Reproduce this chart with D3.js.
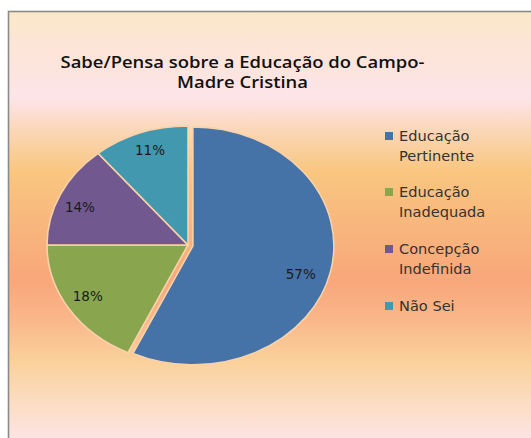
<!DOCTYPE html>
<html><head><meta charset="utf-8">
<script src="https://cdn.jsdelivr.net/npm/d3@7"></script>
<style>body{margin:0;background:#fff;overflow:hidden}svg{display:block}</style>
</head><body>
<svg id="c" width="531" height="438"></svg>
<script>
const titleLines = ["Sabe/Pensa sobre a Educação do Campo-", "Madre Cristina"];
const categories = ["Educação Pertinente", "Educação Inadequada", "Concepção Indefinida", "Não Sei"];
const legendLines = [["Educação", "Pertinente"], ["Educação", "Inadequada"], ["Concepção", "Indefinida"], ["Não Sei"]];
const values = [57, 18, 14, 11];
const labels = ["57%", "18%", "14%", "11%"];
const colors = ["#4572A7", "#89A54E", "#71588F", "#4198AF"];
const explode = [5, 0, 0, 0];
const labelRadius = [0.80, 0.83, 0.83, 0.84];
const labelAngleShift = [4.4, 1.3, -2.6, 1.1]; // degrees

const svg = d3.select("#c");
const defs = svg.append("defs");
const g = defs.append("linearGradient").attr("id", "bg")
  .attr("gradientUnits", "userSpaceOnUse").attr("x1", 0).attr("y1", 11).attr("x2", 0).attr("y2", 438);
[[11,"#FBE8C8"],[40,"#FCE5D4"],[98,"#FDE4E8"],[130,"#FBD7B8"],[172,"#F9C67F"],[230,"#F8B57D"],[280,"#F8A77A"],[320,"#F9B78A"],[362,"#FAD19B"],[400,"#FBDCC0"],[438,"#FDE3E3"]]
  .forEach(([y,c]) => g.append("stop").attr("offset", ((y-11)/427)).attr("stop-color", c));

svg.append("rect").attr("x", 8.5).attr("y", 11.5).attr("width", 540).attr("height", 440)
  .attr("fill", "url(#bg)").attr("stroke", "#8a8a8a").attr("stroke-width", 1.6);

// title
const tt = svg.append("text").attr("text-anchor", "middle").attr("font-family", "Open Sans, sans-serif")
  .attr("font-weight", 600).attr("font-size", 15.5).attr("fill", "#111")
  .attr("transform", "translate(242.5,0) scale(1.19,1)");
titleLines.forEach((t, i) => tt.append("tspan").attr("x", 0).attr("y", 68 + i * 20).text(t));

// pie
const cx = 188, cy = 245, rx = 141, ry = 119;
const pie = d3.pie().sort(null).value(d => d)(values);
const arc = d3.arc().innerRadius(0).outerRadius(rx);
const pg = svg.append("g").attr("transform", `translate(${cx},${cy}) scale(1,${ry/rx})`);
pg.selectAll("path").data(pie).join("path")
  .attr("d", arc)
  .attr("transform", (d, i) => {
    const a = (d.startAngle + d.endAngle) / 2;
    return `translate(${Math.sin(a) * explode[i]},${-Math.cos(a) * explode[i]})`;
  })
  .attr("fill", (d, i) => colors[i])
  .attr("stroke", "#FAD2A8").attr("stroke-width", 1.6).attr("vector-effect", "non-scaling-stroke");

// labels
const midA = (d, i) => (d.startAngle + d.endAngle) / 2 + labelAngleShift[i] * Math.PI / 180;
svg.append("g").selectAll("text").data(pie).join("text")
  .attr("x", (d, i) => { const a = midA(d, i); const m = (d.startAngle + d.endAngle) / 2; return cx + Math.sin(a) * rx * labelRadius[i] + Math.sin(m) * explode[i]; })
  .attr("y", (d, i) => { const a = midA(d, i); const m = (d.startAngle + d.endAngle) / 2; return cy - Math.cos(a) * ry * labelRadius[i] - Math.cos(m) * explode[i] + 5; })
  .attr("text-anchor", "middle").attr("font-family", "DejaVu Sans, sans-serif").attr("font-size", 13.5)
  .attr("fill", "#1a1a1a").text((d, i) => labels[i]);

// legend
const ly = [136, 192, 249, 306];
const lg = svg.append("g").selectAll("g").data(categories).join("g");
lg.append("rect").attr("x", 385).attr("y", (d, i) => ly[i] - 4).attr("width", 8).attr("height", 8)
  .attr("fill", (d, i) => colors[i]);
lg.append("text").attr("font-family", "DejaVu Sans, sans-serif").attr("font-size", 13.5).attr("fill", "#333")
  .attr("transform", "translate(399,0) scale(1.08,1)")
  .each(function(d, i) {
    legendLines[i].forEach((t, j) => d3.select(this).append("tspan").attr("x", 0).attr("y", ly[i] + 5 + j * 20).text(t));
  });
</script>
</body></html>
